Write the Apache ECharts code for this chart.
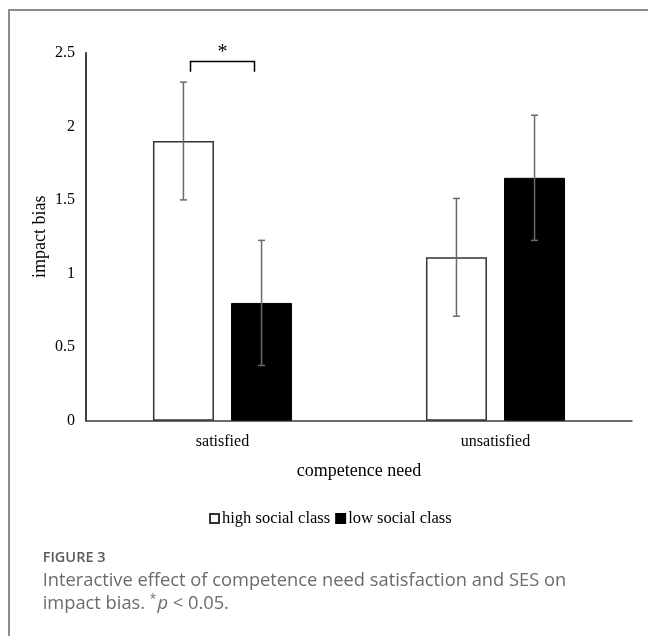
<!DOCTYPE html>
<html>
<head>
<meta charset="utf-8">
<script src="https://cdn.jsdelivr.net/npm/echarts@6/dist/echarts.min.js"></script>
<style>
html,body{margin:0;padding:0;background:#fff;}
#chart{width:648px;height:636px;}
</style>
</head>
<body>
<div id="chart"></div>
<script>
// ---- data ----
const categories = ['satisfied', 'unsatisfied'];
const seriesNames = ['high social class', 'low social class'];
const highValues = [1.90, 1.11];
const lowValues = [0.80, 1.65];
const highErrors = [0.40, 0.40];
const lowErrors = [0.425, 0.425];
const yMin = 0, yMax = 2.5, yStep = 0.5;
const sigCategoryIndex = 0;
const sigBracketTop = 2.44;
const sigBracketFoot = 2.37;
const sigStarLevel = 2.53;
const sigMark = '*';
const yAxisTitle = 'impact bias';
const xAxisTitle = 'competence need';
const figureLabel = 'FIGURE 3';
const captionLine1 = 'Interactive effect of competence need satisfaction and SES on';

// ---- style constants ----
const SERIF = 'Liberation Serif';
const BAR_W = 61;
const BAR_GAP = 0.28;
const OFF = (BAR_W + BAR_W * BAR_GAP) / 2;
const CAP_COLOR = '#6b6b6b';

const chart = echarts.init(document.getElementById('chart'), null, {renderer: 'canvas'});

function errorRender(sign) {
  return function (params, api) {
    const i = api.value(0), v = api.value(1), e = api.value(2);
    const c = api.coord([i, v]);
    const t = api.coord([i, v + e]);
    const b = api.coord([i, v - e]);
    const x = c[0] + sign * OFF;
    const st = {stroke: '#6a6a6a', lineWidth: 1.5};
    return {
      type: 'group',
      children: [
        {type: 'line', shape: {x1: x, y1: t[1], x2: x, y2: b[1]}, style: st},
        {type: 'line', shape: {x1: x - 3.5, y1: t[1], x2: x + 3.5, y2: t[1]}, style: st},
        {type: 'line', shape: {x1: x - 3.5, y1: b[1], x2: x + 3.5, y2: b[1]}, style: st}
      ]
    };
  };
}

const option = {
  animation: false,
  backgroundColor: '#fff',
  grid: {left: 86, right: 16, top: 52.7, bottom: 215.3, containLabel: false},
  legend: {
    left: 204, top: 505,
    data: seriesNames,
    icon: 'rect',
    itemWidth: 9, itemHeight: 9, itemGap: 5,
    textStyle: {fontFamily: SERIF, fontSize: 16.5, color: '#000', padding: [0, 0, 0, -2]}
  },
  xAxis: {
    type: 'category',
    data: categories,
    name: xAxisTitle,
    nameLocation: 'middle',
    nameGap: 42,
    nameMoveOverlap: false,
    nameTextStyle: {fontFamily: SERIF, fontSize: 18, color: '#000'},
    axisLine: {lineStyle: {color: '#3c3c3c', width: 1.5}},
    axisTick: {show: false},
    axisLabel: {fontFamily: SERIF, fontSize: 16, color: '#000', margin: 13}
  },
  yAxis: {
    type: 'value',
    min: yMin, max: yMax, interval: yStep,
    name: yAxisTitle,
    nameLocation: 'middle',
    nameGap: 37,
    nameMoveOverlap: false,
    nameRotate: 90,
    nameTextStyle: {fontFamily: SERIF, fontSize: 18, color: '#000'},
    axisLine: {show: true, lineStyle: {color: '#000', width: 1.5}},
    axisTick: {show: false},
    splitLine: {show: false},
    axisLabel: {fontFamily: SERIF, fontSize: 16, color: '#000', margin: 11}
  },
  series: [
    {
      name: seriesNames[0], type: 'bar', data: highValues,
      barWidth: BAR_W, barGap: (BAR_GAP * 100) + '%',
      itemStyle: {color: '#fff', borderColor: '#333', borderWidth: 1.5}
    },
    {
      name: seriesNames[1], type: 'bar', data: lowValues,
      barWidth: BAR_W, barGap: (BAR_GAP * 100) + '%',
      itemStyle: {color: '#000', borderColor: '#000', borderWidth: 1}
    },
    {
      type: 'custom', name: 'err-high', z: 5, silent: true,
      renderItem: errorRender(-1),
      encode: {x: 0, y: 1},
      data: highValues.map((v, i) => [i, v, highErrors[i]])
    },
    {
      type: 'custom', name: 'err-low', z: 5, silent: true,
      renderItem: errorRender(1),
      encode: {x: 0, y: 1},
      data: lowValues.map((v, i) => [i, v, lowErrors[i]])
    },
    {
      type: 'custom', name: 'sig', z: 6, silent: true, clip: false,
      encode: {x: 0, y: 1},
      data: [[sigCategoryIndex, sigBracketTop, sigBracketFoot, sigStarLevel]],
      renderItem: function (params, api) {
        const i = api.value(0);
        const top = api.coord([i, api.value(1)]);
        const foot = api.coord([i, api.value(2)]);
        const star = api.coord([i, api.value(3)]);
        const half = 32;
        return {
          type: 'group',
          children: [
            {type: 'polyline', shape: {points: [[top[0] - half, foot[1]], [top[0] - half, top[1]], [top[0] + half, top[1]], [top[0] + half, foot[1]]]},
             style: {stroke: '#000', lineWidth: 1.5, fill: null}},
            {type: 'text', x: top[0], y: star[1] + 4,
             style: {text: sigMark, font: '20px ' + SERIF, fill: '#000', align: 'center', verticalAlign: 'middle'}}
          ]
        };
      }
    }
  ],
  graphic: [
    {type: 'rect', shape: {x: 9, y: 10, width: 700, height: 700},
     style: {stroke: '#8c8c8c', lineWidth: 2, fill: null}, silent: true},
    {type: 'text', x: 42.7, y: 557.7,
     style: {text: figureLabel, font: '600 14.5px "Open Sans"', fill: '#5a5a5a', verticalAlign: 'middle'}},
    {type: 'text', x: 42.7, y: 581,
     style: {text: captionLine1, font: '18.3px "Open Sans"', fill: CAP_COLOR, verticalAlign: 'middle'}},
    {type: 'text', x: 42.7, y: 604,
     style: {
       text: '{a|impact bias. }{s|*}{i|p}{a| < 0.05.}',
       fill: CAP_COLOR,
       verticalAlign: 'middle',
       rich: {
         a: {font: '18.3px "Open Sans"', fill: CAP_COLOR},
         s: {font: '12px "Open Sans"', fill: CAP_COLOR, verticalAlign: 'top', padding: [0, 1, 8, 0]},
         i: {font: 'italic 18.3px "Open Sans"', fill: CAP_COLOR}
       }
     }}
  ]
};
chart.setOption(option);
</script>
</body>
</html>
